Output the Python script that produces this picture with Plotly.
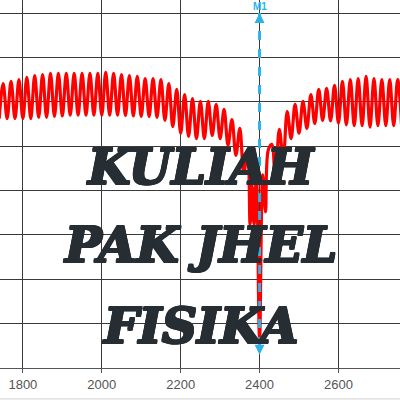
import plotly.graph_objects as go

# Frequency (x) and level (y): alternating peaks / troughs
freq = [1740, 1750, 1760, 1770, 1780, 1790, 1800, 1810, 1820, 1830, 1840, 1850, 1860, 1870, 1880,
        1890, 1900, 1910, 1920, 1930, 1940, 1950, 1960, 1970, 1980, 1990, 2000, 2010, 2020, 2030,
        2040, 2050, 2060, 2070, 2080, 2090, 2100, 2110, 2120, 2130, 2140, 2150, 2160, 2170, 2180,
        2190, 2200, 2210, 2220, 2230, 2240, 2250, 2260, 2270, 2280, 2290, 2300, 2310, 2320, 2330,
        2340, 2350, 2360, 2370, 2376, 2381, 2386, 2392, 2400, 2408, 2415, 2422, 2431, 2440, 2450,
        2460, 2470, 2480, 2490, 2500, 2510, 2520, 2530, 2540, 2550, 2560, 2570, 2580, 2590, 2600,
        2610, 2620, 2630, 2640, 2650, 2660, 2670, 2680, 2690, 2700, 2710, 2720, 2730, 2740, 2750,
        2760]
level = [-23.8, -15.9, -23.8, -15.4, -23.8, -15.0, -23.8, -14.5, -23.8, -14.1, -23.5, -13.9, -23.5, -13.6, -23.3,
         -13.6, -23.2, -13.6, -23.0, -13.6, -23.0, -13.6, -23.0, -13.6, -23.0, -13.6, -23.0, -13.4, -23.0, -13.6,
         -23.0, -13.9, -23.1, -14.1, -23.2, -14.3, -23.3, -14.8, -23.3, -14.8, -23.5, -15.0, -24.2, -15.9, -25.6,
         -17.2, -27.1, -18.4, -27.8, -19.3, -28.3, -19.9, -28.3, -19.9, -27.6, -20.6, -28.3, -21.7, -29.8, -24.0,
         -32.1, -26.0, -36.1, -30.9, -47.7, -38.7, -47.7, -36.5, -73.6, -36.5, -44.8, -30.9, -29.6, -38.0, -26.2,
         -32.8, -22.2, -28.3, -20.6, -27.1, -19.9, -26.0, -18.4, -24.9, -17.2, -24.2, -17.0, -24.3, -16.3, -24.8,
         -15.4, -25.2, -15.0, -25.4, -14.8, -25.4, -14.3, -25.7, -14.8, -25.4, -15.0, -25.4, -15.0, -25.4, -15.0,
         -25.4]

x_ticks = [1800, 2000, 2200, 2400, 2600]
marker_freq = 2400
marker_name = "M1"
marker_top = 0
marker_bottom = -77
title_lines = ["KULIAH", "PAK JHEL", "FISIKA"]

CYAN = "#2bb3e6"
INK = "#262d33"

fig = go.Figure()
fig.add_trace(go.Scatter(
    x=freq, y=level, mode="lines",
    line=dict(color="#ff0000", width=3.2, shape="spline", smoothing=1.0),
    showlegend=False, hoverinfo="skip",
))

fig.add_shape(type="line", x0=marker_freq, x1=marker_freq, y0=marker_top, y1=marker_bottom,
              xref="x", yref="y", line=dict(color=CYAN, width=3, dash="dash"), layer="above")
fig.add_shape(type="line", x0=0, x1=1, y0=-0.084, y1=-0.084, xref="paper", yref="paper",
              line=dict(color="#d0d0d0", width=1))

fig.add_annotation(x=marker_freq, y=marker_top, xref="x", yref="y", text="", showarrow=True,
                   ax=0, ay=9, arrowhead=2, arrowsize=1, arrowwidth=2, arrowcolor=CYAN)
fig.add_annotation(x=marker_freq, y=marker_bottom, xref="x", yref="y", text="", showarrow=True,
                   ax=0, ay=-9, arrowhead=2, arrowsize=1, arrowwidth=2, arrowcolor=CYAN)
fig.add_annotation(x=marker_freq, y=marker_top, xref="x", yref="y", text="<b>" + marker_name + "</b>",
                   showarrow=False, yanchor="bottom", yshift=-1,
                   font=dict(family="Liberation Sans, Arial", size=10, color=CYAN))

shadow = ", ".join(f"{dx}px {dy}px 0px {INK}" for dx, dy in
                   [(1, 0), (-1, 0), (0, 1), (0, -1), (1, 1), (-1, -1), (1, -1), (-1, 1)])
ys = [0.545, 0.333, 0.115]
for t, yy in zip(title_lines, ys):
    fig.add_annotation(x=0.5, y=yy, xref="paper", yref="paper", text="<b><i>" + t + "</i></b>",
                       showarrow=False, xanchor="center", yanchor="middle",
                       font=dict(family="DejaVu Serif", size=49, color=INK, shadow=shadow))

fig.update_layout(
    width=400, height=400,
    margin=dict(l=0, r=0, t=0, b=32),
    paper_bgcolor="white", plot_bgcolor="white",
    xaxis=dict(range=[1742, 2756], tickvals=x_ticks, ticktext=[str(v) for v in x_ticks],
               showgrid=True, gridcolor="#3a3a3a", gridwidth=1,
               ticks="outside", ticklen=4, tickcolor="#555",
               showline=True, linecolor="#555", linewidth=1, zeroline=False,
               tickfont=dict(family="Liberation Sans, Arial", size=13, color="#555")),
    yaxis=dict(range=[-80, 2.93], dtick=10, tick0=0, showticklabels=False,
               showgrid=True, gridcolor="#3a3a3a", gridwidth=1, zeroline=False, ticks=""),
)

fig.write_html("out.html", config={"displayModeBar": False},
               post_script="document.body.style.margin='0';")
